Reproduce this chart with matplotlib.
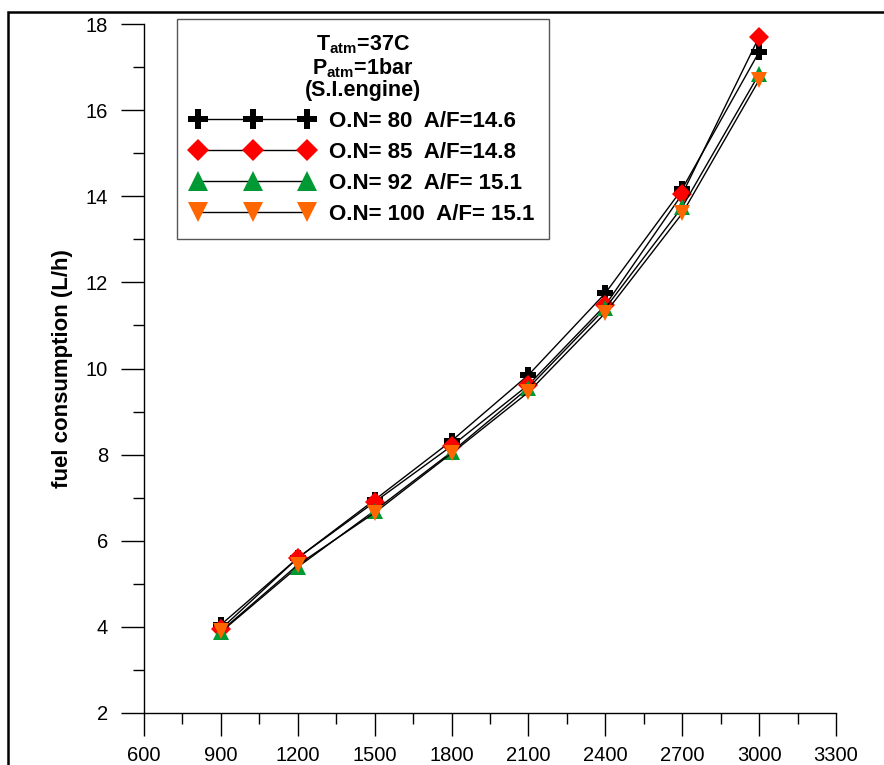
import matplotlib.pyplot as plt
import matplotlib.ticker as ticker
from matplotlib.patches import Rectangle

plt.rcParams['font.family'] = ['Liberation Sans', 'DejaVu Sans']
plt.rcParams['mathtext.fontset'] = 'custom'
plt.rcParams['mathtext.rm'] = 'Liberation Sans'
plt.rcParams['mathtext.bf'] = 'Liberation Sans:bold'

speed = [900, 1200, 1500, 1800, 2100, 2400, 2700, 3000]
fuel_on80 = [4.05, 5.60, 6.95, 8.32, 9.85, 11.75, 14.17, 17.35]
fuel_on85 = [3.95, 5.60, 6.90, 8.20, 9.62, 11.47, 14.05, 17.70]
fuel_on92 = [3.88, 5.39, 6.70, 8.06, 9.55, 11.40, 13.75, 16.84]
fuel_on100 = [3.90, 5.44, 6.65, 8.03, 9.45, 11.29, 13.60, 16.70]

labels = ["O.N= 80  A/F=14.6", "O.N= 85  A/F=14.8",
          "O.N= 92  A/F= 15.1", "O.N= 100  A/F= 15.1"]

W, H = 884, 765
fig = plt.figure(figsize=(W / 100, H / 100), dpi=100)
ax = fig.add_axes([144 / W, 52 / H, (836 - 144) / W, (713 - 24) / H])

# outer frame (cut off at right and bottom)
fig.patches.append(Rectangle((8 / W, -0.5), 2, (H - 12) / H + 0.5,
                             transform=fig.transFigure, fill=False,
                             edgecolor='black', linewidth=1.8, clip_on=False))

styles = [('P', 'black', 12), ('D', '#FF0000', 10), ('^', '#009933', 12), ('v', '#FF6600', 12)]
series = [fuel_on80, fuel_on85, fuel_on92, fuel_on100]
for vals, (mk, col, ms), lab in zip(series, styles, labels):
    ax.plot(speed, vals, color='black', lw=1, marker=mk, ms=ms,
            markerfacecolor=col, markeredgewidth=0, label=lab)

ax.set_xlim(600, 3300)
ax.set_ylim(2, 18)
ax.xaxis.set_major_locator(ticker.MultipleLocator(300))
ax.xaxis.set_minor_locator(ticker.MultipleLocator(150))
ax.yaxis.set_major_locator(ticker.MultipleLocator(2))
ax.yaxis.set_minor_locator(ticker.MultipleLocator(1))

for s in ['top', 'right']:
    ax.spines[s].set_visible(False)
for s in ['left', 'bottom']:
    ax.spines[s].set_linewidth(1)

ax.tick_params(which='major', direction='out', length=16.5, width=1, labelsize=14.5)
ax.tick_params(which='minor', direction='out', length=8, width=1)
ax.tick_params(axis='y', which='major', pad=9.5)
ax.tick_params(axis='x', which='major', pad=7.3)

ax.set_ylabel("fuel consumption (L/h)", fontsize=16, fontweight='bold', labelpad=9)

title = ("$\\mathbf{T_{atm}}$=37C\n$\\mathbf{P_{atm}}$=1bar\n(S.I.engine)")
leg = ax.legend(loc='upper left', bbox_to_anchor=(177 / W, (H - 19) / H),
                bbox_transform=fig.transFigure, numpoints=3, handlelength=5.5,
                markerscale=1.15, fancybox=False, framealpha=1, edgecolor='#555555',
                prop={'weight': 'bold', 'size': 16}, title=title,
                title_fontproperties={'weight': 'bold', 'size': 15.5},
                labelspacing=0.45, borderpad=0.65, handletextpad=0.7, borderaxespad=0)
leg.get_frame().set_linewidth(1)
leg.get_title().set_linespacing(1.0)
leg.get_title().set_multialignment('center')

fig.savefig("out.png", dpi=100)
